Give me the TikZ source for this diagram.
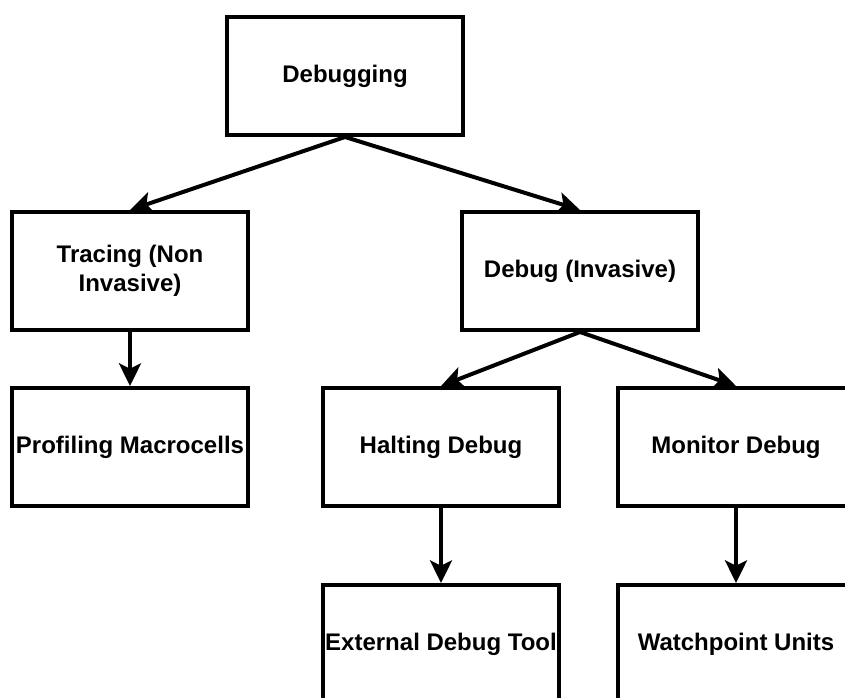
\documentclass[tikz,border=0pt]{standalone}
\usepackage{fontspec}
\setmainfont{Liberation Sans}
\usetikzlibrary{arrows.meta}
\begin{document}
\begin{tikzpicture}[x=0.75pt,y=-0.75pt,
  box/.style={draw, line width=3pt, rectangle, minimum width=177pt,
    minimum height=88.5pt, inner sep=0pt, align=center,
    font=\fontsize{18}{21.5}\selectfont\bfseries},
  link/.style={line width=3pt,
    -{Stealth[length=17pt,width=16.5pt,inset=4pt]}}]
\useasboundingbox (0,0) rectangle (845,698);
% tree of boxes
\node[box] (dbg)   at (345,76)  {Debugging};
\node[box] (trace) at (130,271) {Tracing (Non\\Invasive)};
\node[box] (inv)   at (580,271) {Debug (Invasive)};
\node[box] (prof)  at (130,447) {Profiling Macrocells};
\node[box] (halt)  at (441,447) {Halting Debug};
\node[box] (mon)   at (736,447) {Monitor Debug};
\node[box] (ext)   at (441,644) {External Debug Tool};
\node[box] (watch) at (736,644) {Watchpoint Units};
% connectors
\draw[link] (dbg.south) -- (trace.north);
\draw[link] (dbg.south) -- (inv.north);
\draw[link] (trace.south) -- (prof.north);
\draw[link] (inv.south) -- (halt.north);
\draw[link] (inv.south) -- (mon.north);
\draw[link] (halt.south) -- (ext.north);
\draw[link] (mon.south) -- (watch.north);
\end{tikzpicture}
\end{document}
